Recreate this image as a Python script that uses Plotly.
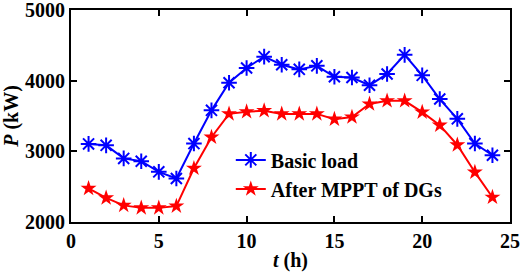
import plotly.graph_objects as go

hours = list(range(1, 25))
basic_load = [3105, 3085, 2900, 2860, 2710, 2615, 3110, 3580, 3970, 4180, 4340, 4225, 4160,
              4210, 4055, 4045, 3935, 4095, 4365, 4075, 3740, 3460, 3110, 2945]
after_mppt = [2475, 2340, 2235, 2200, 2200, 2225, 2760, 3200, 3530, 3560, 3575, 3530, 3530,
              3530, 3455, 3485, 3670, 3715, 3715, 3555, 3370, 3090, 2705, 2350]
series_names = ["Basic load", "After MPPT of DGs"]

font_fam = "Liberation Serif, Times New Roman, serif"
fs = 20

fig = go.Figure()
fig.add_trace(go.Scatter(
    x=hours, y=basic_load, mode="lines+markers", name=series_names[0],
    line=dict(color="#0000ff", width=2),
    marker=dict(symbol="asterisk-open", size=13, color="#0000ff",
                line=dict(color="#0000ff", width=2)),
))
fig.add_trace(go.Scatter(
    x=hours, y=after_mppt, mode="lines+markers", name=series_names[1],
    line=dict(color="#ff0000", width=2),
    marker=dict(symbol="star", size=12, color="#ff0000"),
))

axis_common = dict(
    showline=True, linecolor="black", linewidth=2, mirror="ticks",
    ticks="inside", ticklen=6, tickwidth=2, tickcolor="black",
    showgrid=False, zeroline=False, automargin=False,
    ticklabeloverflow="allow",
    tickfont=dict(family=font_fam, size=fs, color="black", weight="bold"),
)

fig.update_layout(
    width=526, height=275,
    margin=dict(l=71, r=16, t=10, b=53),
    paper_bgcolor="white", plot_bgcolor="white",
    showlegend=True,
    legend=dict(x=0.364, y=0.385, xanchor="left", yanchor="top",
                bgcolor="rgba(0,0,0,0)", borderwidth=0,
                font=dict(family=font_fam, size=fs, color="black", weight="bold"),
                tracegroupgap=0),
    xaxis=dict(range=[0, 25], tickvals=[0, 5, 10, 15, 20, 25],
               title=dict(text="<i>t</i> (h)", standoff=2,
                          font=dict(family=font_fam, size=fs, color="black", weight="bold")),
               **axis_common),
    yaxis=dict(range=[2000, 5000], tickvals=[2000, 3000, 4000, 5000],
               title=dict(text="<i>P</i> (kW)", standoff=4,
                          font=dict(family=font_fam, size=fs, color="black", weight="bold")),
               **axis_common),
)

fig.write_html("out.html",
               config={"displayModeBar": False},
               post_script="document.body.style.margin='0';document.body.style.overflow='hidden';")
